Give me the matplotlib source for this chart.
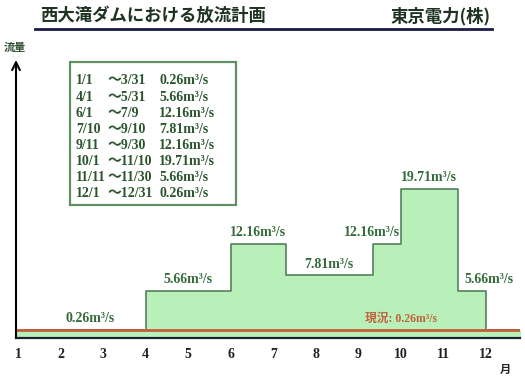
import matplotlib.pyplot as plt
from matplotlib.patches import Rectangle

plt.rcParams['font.family'] = ['Liberation Serif', 'Noto Sans CJK JP']

# release plan periods (start / end date) and flow in m3/s
starts = ["1/1", "4/1", "6/1", "7/10", "9/11", "10/1", "11/11", "12/1"]
ends = ["3/31", "5/31", "7/9", "9/10", "9/30", "11/10", "11/30", "12/31"]
flows = [0.26, 5.66, 12.16, 7.81, 12.16, 19.71, 5.66, 0.26]
current_flow = 0.26
months = list(range(1, 13))

days = [31, 28, 31, 30, 31, 30, 31, 31, 30, 31, 30, 31]


def month_pos(s):
    m, d = s.split("/")
    m, d = int(m), int(d)
    return m + (d - 1) / days[m - 1]


edges = [month_pos(s) for s in starts] + [13]
dark_green = "#356b3a"
text_green = "#2b552d"

fig = plt.figure(figsize=(5.25, 3.8), dpi=100)
ax = fig.add_axes([16 / 525, 42 / 380, 504 / 525, 278 / 380])
ax.set_xlim(0.95, 12.8)
ax.set_ylim(-0.84, 37.5)

# flow steps
x = [0.9] + edges[1:]
xs, ys = [], []
for i, v in enumerate(flows):
    xs += [x[i], x[i + 1]]
    ys += [v, v]
ax.fill_between(xs, -0.84, ys, color="#b9f0b9", lw=0)
ax.plot(xs, ys, color="#4a7553", lw=1.1)

# current flow line
ax.axhline(current_flow, color="#c1603c", lw=2)
ax.text(10.0, current_flow + 0.7, "現況: 0.26m³/s", color="#c1603c",
        fontsize=8.5, fontweight="bold", ha="center", va="bottom")

# step labels
for i, v in enumerate(flows[:-1]):
    x0, x1 = edges[i], edges[i + 1]
    xc, ha = (x0 + x1) / 2, "center"
    if i == 0:
        xc = 2.7
    if i == 4:
        xc, ha = x1 - 0.02, "right"
    if i == 6:
        xc, ha = x0 + 0.15, "left"
    ax.annotate(f"{v:.2f}m³/s", (xc, v), xytext=(0, 8), textcoords="offset points",
                ha=ha, va="center", fontsize=10, fontweight="bold", color=dark_green)

# axes
for s in ["top", "right", "left"]:
    ax.spines[s].set_visible(False)
ax.spines["bottom"].set_color("#1b2233")
ax.spines["bottom"].set_linewidth(1.6)
ax.annotate("", xy=(0, 1.0), xytext=(0, 0), xycoords="axes fraction",
            arrowprops=dict(arrowstyle="->", color="black", lw=1.5,
                            mutation_scale=14, shrinkA=0, shrinkB=0))
ax.set_yticks([])
ax.set_xticks(months)
ax.set_xticklabels([str(m) for m in months], fontsize=10, fontweight="bold",
                   color="#222222")
ax.tick_params(axis="x", length=0, pad=7)

fig.text(15 / 525, 1 - 48 / 380, "流量", fontsize=8, fontweight="bold",
         color="#2d4d30", ha="center", va="center")
fig.text(505 / 525, 1 - 370 / 380, "月", fontsize=8, fontweight="bold",
         color="#222222", ha="center", va="center")

# title
fig.text(40 / 525, 1 - 16 / 380, "西大滝ダムにおける放流計画", fontsize=12.5,
         fontweight="bold", color="#1e3322", ha="left", va="center",
         family="Noto Sans CJK JP")
fig.text(491 / 525, 1 - 16 / 380, "東京電力(株)", fontsize=12.5,
         fontweight="bold", color="#1e3322", ha="right", va="center",
         family="Noto Sans CJK JP")
fig.add_artist(plt.Line2D([35 / 525, 492 / 525], [1 - 29 / 380] * 2,
                          color="#1a1a4a", lw=2))

# schedule table
fig.add_artist(Rectangle((70 / 525, 1 - 205 / 380), 166 / 525, 143 / 380,
                         facecolor="white", edgecolor="#5f8f62", lw=1.6))
for i in range(len(starts)):
    yy = 1 - (81 + 16.1 * i) / 380
    fig.text(76 / 525, yy, starts[i], fontsize=10, fontweight="bold",
             color=text_green, va="center")
    fig.text(107 / 525, yy, "〜" + ends[i], fontsize=10, fontweight="bold",
             color=text_green, va="center")
    fig.text(159 / 525, yy, f"{flows[i]:.2f}m³/s", fontsize=10,
             fontweight="bold", color=text_green, va="center")

fig.savefig("out.png", dpi=100)
